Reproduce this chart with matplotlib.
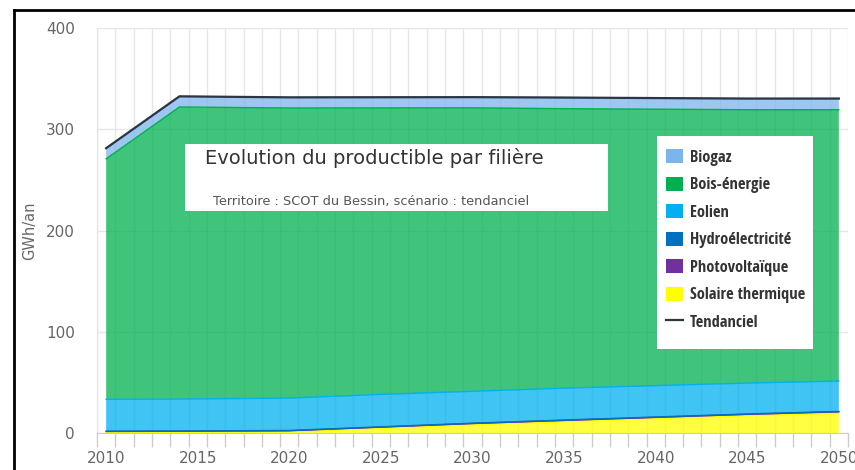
import matplotlib.pyplot as plt
import numpy as np
from matplotlib.patches import Patch, Rectangle
from matplotlib.lines import Line2D
from matplotlib import font_manager

# Production by sector (GWh/an)
years = [2010, 2014, 2020, 2025, 2030, 2035, 2040, 2045, 2050]
solaire_thermique = [0.5, 0.7, 1.0, 4.5, 8.0, 11.0, 14.0, 17.0, 19.5]
photovoltaique = [1.0, 1.0, 1.2, 1.3, 1.4, 1.5, 1.5, 1.5, 1.5]
hydroelectricite = [0.3, 0.3, 0.3, 0.3, 0.3, 0.3, 0.3, 0.3, 0.3]
eolien = [31.5, 31.5, 32.0, 32.0, 31.5, 31.5, 31.0, 30.5, 30.0]
bois_energie = [237.5, 288.5, 286.5, 283.0, 280.0, 276.0, 273.0, 270.0, 268.0]
biogaz = [10.5, 10.5, 10.5, 10.5, 10.5, 11.0, 11.0, 11.0, 11.0]

labels = ['Biogaz', 'Bois-énergie', 'Eolien', 'Hydroélectricité',
          'Photovoltaïque', 'Solaire thermique']
colors = ['#7cb5ec', '#00b050', '#00b0f0', '#0070c0', '#7030a0', '#ffff00']

# legend uses a bold condensed face, take one if it is installed
names = {f.name for f in font_manager.fontManager.ttflist}
narrow = 'DejaVu Sans'
for cand in ['DejaVu Sans Condensed', 'Liberation Sans Narrow', 'Open Sans Condensed']:
    if cand in names:
        narrow = cand
        break

# Highcharts stacks the first series on top, so draw from the bottom up
stack = [solaire_thermique, photovoltaique, hydroelectricite, eolien, bois_energie, biogaz]
stack_colors = colors[::-1]
tendanciel = np.sum(stack, axis=0)

fig = plt.figure(figsize=(8.55, 4.7), dpi=100)
ax = fig.add_axes([97 / 855, 1 - 433 / 470, (848 - 97) / 855, (433 - 28) / 470])

grid_col = '#e6e6e6'
text_col = '#666666'

ax.stackplot(years, *stack, colors=stack_colors, alpha=0.75, linewidth=0, zorder=2)
# thin edges on top of each band like the reference
base = np.zeros(len(years))
for vals, c in zip(stack, stack_colors):
    base = base + np.array(vals)
    ax.plot(years, base, color=c, lw=1.0, zorder=3)
ax.plot(years, tendanciel, color='#2b3544', lw=1.6, zorder=4)

ax.set_xlim(2009.5, 2050.5)
ax.set_ylim(0, 400)
ax.set_yticks([0, 100, 200, 300, 400])
ax.set_xticks(range(2010, 2051, 5))
ax.set_xticks(np.arange(2009.5, 2051, 1), minor=True)
ax.tick_params(axis='x', which='major', length=0, pad=13, labelsize=11, labelcolor=text_col)
ax.tick_params(axis='x', which='minor', length=10, width=1, color='#cccccc')
ax.tick_params(axis='y', length=0, pad=16, labelsize=11, labelcolor=text_col)
ax.grid(True, axis='y', color=grid_col, lw=1, zorder=0)
ax.grid(True, axis='x', which='minor', color=grid_col, lw=1, zorder=0)
ax.set_axisbelow(True)
for s in ['top', 'right']:
    ax.spines[s].set_visible(False)
ax.spines['left'].set_color('#f3dede')
ax.spines['bottom'].set_color('#cccccc')
ax.set_ylabel('GWh/an', color=text_col, fontsize=10.5, labelpad=6)

# title box inside the plot
ax.add_patch(Rectangle((185 / 855, 1 - 211 / 470), 423 / 855, 67 / 470,
                       transform=fig.transFigure, facecolor='white',
                       edgecolor='none', zorder=5, clip_on=False))
ax.text(205 / 855, 1 - 158 / 470, 'Evolution du productible par filière',
        transform=fig.transFigure, fontsize=14, color='#333333', va='center',
        ha='left', zorder=6, family='DejaVu Sans')
ax.text(213 / 855, 1 - 201 / 470, 'Territoire : SCOT du Bessin, scénario : tendanciel',
        transform=fig.transFigure, fontsize=9.3, color='#555555', va='center',
        ha='left', zorder=6, family='DejaVu Sans')

# legend box
ax.add_patch(Rectangle((657 / 855, 1 - 349 / 470), 156 / 855, 213 / 470,
                       transform=fig.transFigure, facecolor='white',
                       edgecolor='none', zorder=6, clip_on=False))
handles = [Patch(facecolor=c, edgecolor='none') for c in colors]
handles.append(Line2D([0], [0], color='#2b3544', lw=1.6))
leg = ax.legend(handles, labels + ['Tendanciel'], loc='upper left',
                bbox_to_anchor=(666 / 855, 1 - 149 / 470), bbox_transform=fig.transFigure,
                frameon=False, prop={'family': narrow, 'weight': 'bold', 'size': 11.8},
                handlelength=1.02, handleheight=0.98, handletextpad=0.42,
                labelspacing=0.65, borderpad=0, borderaxespad=0)
leg.set_zorder(7)
for t in leg.get_texts():
    t.set_color('#333333')

# black outer frame (left and top edges)
fig.add_artist(Line2D([14 / 855, 14 / 855], [0, 1 - 10 / 470], transform=fig.transFigure,
                      color='black', lw=2))
fig.add_artist(Line2D([14 / 855, 1], [1 - 10 / 470, 1 - 10 / 470], transform=fig.transFigure,
                      color='black', lw=2))

fig.savefig('out.png', dpi=100)
